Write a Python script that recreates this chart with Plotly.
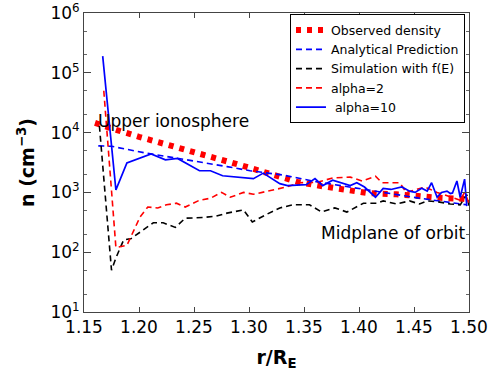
import plotly.graph_objects as go

# Observed density
obs_x = [1.160, 1.170, 1.180, 1.200, 1.220, 1.250, 1.280, 1.300, 1.330, 1.344, 1.363, 1.380, 1.389, 1.407, 1.434, 1.462, 1.474, 1.494, 1.500]
obs_y = [14500, 12300, 11000, 8500, 6800, 4800, 3300, 2600, 1800, 1500, 1300, 1170, 1100, 980, 930, 830, 810, 780, 760]

# Analytical prediction
ana_x = [1.163, 1.175, 1.205, 1.250, 1.280, 1.301, 1.331, 1.362, 1.392, 1.422, 1.453, 1.498]
ana_y = [6000, 5900, 4600, 3400, 2700, 2300, 1950, 1500, 1230, 980, 810, 620]

# Simulation with f(E)
sim_x = [1.164, 1.175, 1.179, 1.186, 1.193, 1.203, 1.213, 1.222, 1.233, 1.242, 1.258, 1.270, 1.280, 1.295, 1.303, 1.316, 1.328, 1.340, 1.355, 1.366, 1.378, 1.389, 1.404, 1.416, 1.422, 1.434, 1.446, 1.455, 1.462, 1.471, 1.483, 1.492, 1.498, 1.500]
sim_y = [13000, 50, 80, 160, 170, 230, 310, 310, 260, 370, 380, 400, 450, 510, 320, 430, 550, 620, 620, 470, 550, 470, 660, 660, 720, 640, 720, 640, 720, 700, 640, 620, 920, 600]

# alpha=2
a2_x = [1.168, 1.179, 1.189, 1.201, 1.208, 1.217, 1.225, 1.234, 1.242, 1.255, 1.265, 1.275, 1.283, 1.295, 1.304, 1.316, 1.334, 1.346, 1.362, 1.376, 1.392, 1.403, 1.415, 1.421, 1.437, 1.443, 1.460, 1.471, 1.483, 1.492, 1.496, 1.500]
a2_y = [50000, 120, 130, 390, 570, 550, 620, 660, 570, 740, 800, 1000, 830, 1000, 930, 1050, 1230, 1450, 1480, 1740, 1800, 1550, 1860, 1450, 1450, 1000, 1230, 1000, 830, 740, 1000, 660]

# alpha=10
a10_x = [1.167, 1.179, 1.189, 1.211, 1.224, 1.235, 1.255, 1.265, 1.276, 1.304, 1.313, 1.328, 1.335, 1.352, 1.360, 1.367, 1.376, 1.392, 1.398, 1.405, 1.415, 1.422, 1.429, 1.439, 1.446, 1.451, 1.457, 1.462, 1.466, 1.471, 1.475, 1.480, 1.483, 1.485, 1.489, 1.492, 1.496, 1.498]
a10_y = [190000, 1100, 3100, 4400, 3500, 3700, 2300, 2300, 1900, 1700, 2100, 1400, 1300, 1350, 1700, 1300, 1600, 1300, 1450, 1230, 830, 1170, 1120, 1230, 1050, 1000, 1170, 1050, 1450, 830, 1000, 1050, 960, 980, 1550, 830, 1670, 590]

y_tickvals = [10, 100, 1000, 10000, 100000, 1000000]
y_ticktext = ["10<sup>1</sup>", "10<sup>2</sup>", "10<sup>3</sup>", "10<sup>4</sup>", "10<sup>5</sup>", "10<sup>6</sup>"]
x_tickvals = [1.15, 1.20, 1.25, 1.30, 1.35, 1.40, 1.45, 1.50]
x_ticktext = ["1.15", "1.20", "1.25", "1.30", "1.35", "1.40", "1.45", "1.50"]

FONT = "DejaVu Sans"

fig = go.Figure()
fig.add_trace(go.Scatter(x=obs_x, y=obs_y, mode="lines", name="Observed density",
                         line=dict(color="#ff0000", width=6, dash="5px,6px")))
fig.add_trace(go.Scatter(x=ana_x, y=ana_y, mode="lines", name="Analytical Prediction",
                         line=dict(color="#0000ff", width=1.6, dash="6px,4px")))
fig.add_trace(go.Scatter(x=sim_x, y=sim_y, mode="lines", name="Simulation with f(E)",
                         line=dict(color="#000000", width=1.6, dash="6px,4px")))
fig.add_trace(go.Scatter(x=a2_x, y=a2_y, mode="lines", name="alpha=2",
                         line=dict(color="#ff0000", width=1.6, dash="6px,4px")))
fig.add_trace(go.Scatter(x=a10_x, y=a10_y, mode="lines", name=" alpha=10",
                         line=dict(color="#0000ff", width=1.7)))

fig.add_annotation(x=1.161, y=4.19, xref="x", yref="y", text="Upper ionosphere",
                   showarrow=False, xanchor="left", yanchor="middle",
                   font=dict(family=FONT, size=17, color="black"))
fig.add_annotation(x=1.498, y=2.32, xref="x", yref="y", text="Midplane of orbit",
                   showarrow=False, xanchor="right", yanchor="middle",
                   font=dict(family=FONT, size=17, color="black"))

fig.update_layout(
    width=498, height=372,
    margin=dict(l=84, r=29, t=13, b=60),
    paper_bgcolor="white", plot_bgcolor="white",
    font=dict(family=FONT, size=17, color="black"),
    showlegend=True,
    legend=dict(x=0.535, y=0.995, xanchor="left", yanchor="top",
                bgcolor="white", bordercolor="black", borderwidth=1,
                font=dict(family=FONT, size=12.5, color="black"),
                tracegroupgap=0),
)
fig.update_xaxes(range=[1.15, 1.50], tickvals=x_tickvals, ticktext=x_ticktext, automargin=False,
                 ticks="inside", ticklen=5, tickcolor="#444", showgrid=False, zeroline=False,
                 showline=True, linecolor="#444", linewidth=1, mirror="allticks",
                 tickfont=dict(family=FONT, size=17),
                 title=dict(text="<b>r/R<sub>E</sub></b>", font=dict(family=FONT, size=19), standoff=14))
fig.update_yaxes(type="log", range=[1, 6], tickvals=y_tickvals, ticktext=y_ticktext, automargin=False,
                 ticks="inside", ticklen=7, tickcolor="#444", showgrid=False, zeroline=False,
                 showline=True, linecolor="#444", linewidth=1, mirror="allticks",
                 minor=dict(ticks="inside", ticklen=3, tickcolor="#666", showgrid=False),
                 tickfont=dict(family=FONT, size=17),
                 title=dict(text="<b>n (cm<sup>−3</sup>)</b>", font=dict(family=FONT, size=19), standoff=10))

fig.write_html("out.html")
